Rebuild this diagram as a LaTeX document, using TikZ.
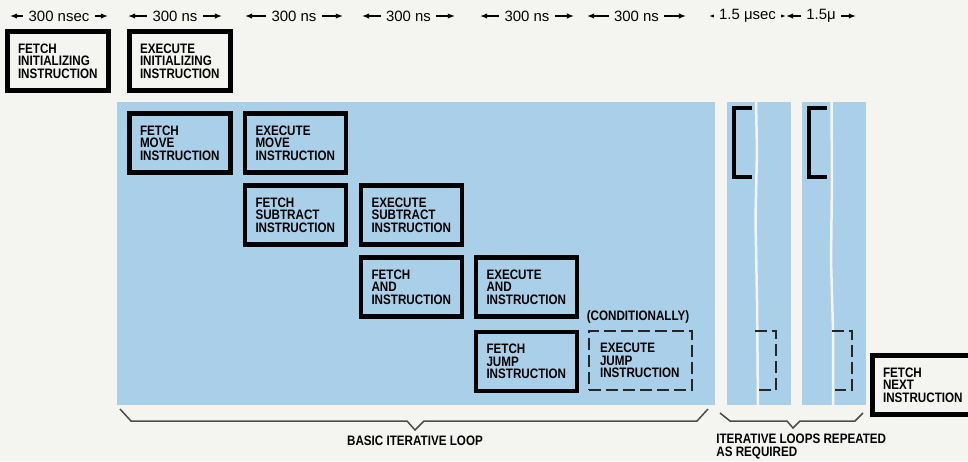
\documentclass[tikz,border=0pt]{standalone}
\usepackage{fontspec}
\setmainfont{Liberation Sans}
\newfontfamily\plaquefont[FakeStretch=0.85]{Liberation Sans}
\usetikzlibrary{arrows.meta}
\definecolor{loopblue}{RGB}{170, 207, 232}
\definecolor{paper}{RGB}{244, 244, 241}

\begin{document}
\begin{tikzpicture}[
  x=0.02cm, y=-0.02cm,
  every node/.style={font=\plaquefont\bfseries\fontsize{7.8}{7.2}\selectfont, align=left},
  stage/.style={draw=black, line width=0.09cm, text width=1.6cm, inner xsep=0.21cm, minimum height=1.18cm},
  maybe/.style={draw=black!85, line width=0.04cm, dash pattern=on 0.24cm off 0.1cm, text width=1.62cm, inner xsep=0.22cm, minimum height=1.18cm},
  timing/.style={{Latex[length=4pt, width=3pt]}-{Latex[length=4pt, width=3pt]}, line width=0.7pt},
  tlabel/.style={font=\fontsize{8.5}{9}\selectfont, fill=paper, inner xsep=3pt, inner ysep=1pt},
  bracket/.style={line width=0.09cm},
  dbracket/.style={line width=0.04cm, black!85, dash pattern=on 0.24cm off 0.1cm},
  cut/.style={paper, line width=0.05cm},
  brace/.style={line width=0.03cm, black!70}
]
  \fill[paper] (0,0) rectangle (968,461);
  \useasboundingbox (0,0) rectangle (968,461);

  % loop area and the repeated strips
  \fill[loopblue] (117,102) rectangle (715,405);
  \fill[loopblue] (727,102) rectangle (791,405);
  \fill[loopblue] (802,102) rectangle (866,405);
  \draw[cut] (756,102) -- (757,150) -- (755.5,220) -- (757,300) -- (758,405);
  \draw[cut] (831.5,102) -- (832,180) -- (831,260) -- (833,330) -- (833,405);

  % timing scale
  \coordinate (t1a) at (10,16);  \coordinate (t1b) at (108,16);
  \coordinate (t2a) at (128,16); \coordinate (t2b) at (222,16);
  \coordinate (t3a) at (245,16); \coordinate (t3b) at (343,16);
  \coordinate (t4a) at (362,16); \coordinate (t4b) at (455,16);
  \coordinate (t5a) at (480,16); \coordinate (t5b) at (574,16);
  \coordinate (t6a) at (587,16); \coordinate (t6b) at (686,16);
  \coordinate (t7a) at (709,16); \coordinate (t78) at (786,16);
  \coordinate (t8b) at (856,16);
  \draw[timing] (t1a) -- node[tlabel] (t1) {300 nsec} (t1b);
  \draw[timing] (t2a) -- node[tlabel] (t2) {300 ns} (t2b);
  \draw[timing] (t3a) -- node[tlabel] (t3) {300 ns} (t3b);
  \draw[timing] (t4a) -- node[tlabel] (t4) {300 ns} (t4b);
  \draw[timing] (t5a) -- node[tlabel] (t5) {300 ns} (t5b);
  \draw[timing] (t6a) -- node[tlabel] (t6) {300 ns} (t6b);
  \draw[timing] (t7a) -- node[tlabel] (t7) {1.5 μsec} (t78);
  \draw[timing] (t78) -- node[tlabel] (t8) {1.5μ} (t8b);

  \node[stage] (finit) at (58,61)     {FETCH\\INITIALIZING\\INSTRUCTION};
  \node[stage] (einit) at (180,61)    {EXECUTE\\INITIALIZING\\INSTRUCTION};
  \node[stage] (fmove) at (180,143)   {FETCH\\MOVE\\INSTRUCTION};
  \node[stage] (emove) at (295.5,143) {EXECUTE\\MOVE\\INSTRUCTION};
  \node[stage] (fsub)  at (295.5,215) {FETCH\\SUBTRACT\\INSTRUCTION};
  \node[stage] (esub)  at (411.5,215) {EXECUTE\\SUBTRACT\\INSTRUCTION};
  \node[stage] (fand)  at (411.5,287) {FETCH\\AND\\INSTRUCTION};
  \node[stage] (eand)  at (526.5,287) {EXECUTE\\AND\\INSTRUCTION};
  \node[stage] (fjump) at (526.5,361.5) {FETCH\\JUMP\\INSTRUCTION};
  \node[maybe] (ejump) at (640.5,360.5) {EXECUTE\\JUMP\\INSTRUCTION};
  \node (cond) at (638,317) {(CONDITIONALLY)};
  \node[stage, fill=paper] (fnext) at (923,385) {FETCH\\NEXT\\INSTRUCTION};

  % repeated loops, shown only by their ends
  \draw[bracket] (752,108) -- (734,108) -- (734,177) -- (752,177);
  \draw[bracket] (827,108) -- (809,108) -- (809,177) -- (827,177);
  \draw[dbracket] (755,331) -- (776,331) -- (776,390) -- (759,390);
  \draw[dbracket] (832,331) -- (852,331) -- (852,390) -- (835,390);

  \draw[brace] (120,409) -- (131,421) -- (407,421) -- (415,430) -- (424,421) -- (697,421) -- (708,409);
  \draw[brace] (720,413) -- (730,421) -- (787,421) -- (793,428) -- (800,421) -- (855,421) -- (863,413);
  \node (basic) at (415,441) {BASIC ITERATIVE LOOP};
  \node[anchor=west, inner xsep=0pt] (repeat) at (716,446.5) {ITERATIVE LOOPS REPEATED\\AS REQUIRED};
\end{tikzpicture}
\end{document}
